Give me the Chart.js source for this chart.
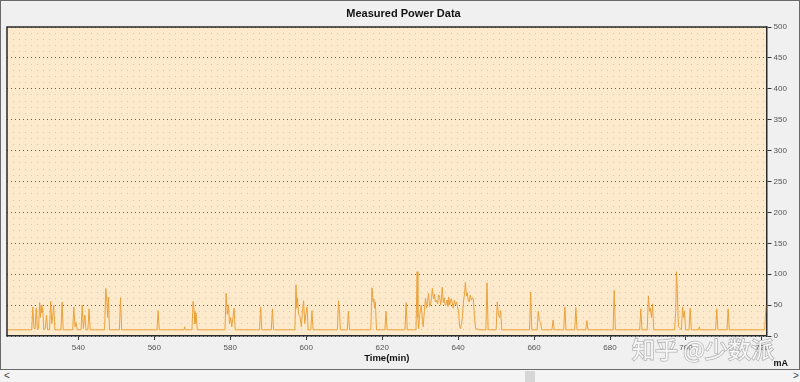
<!DOCTYPE html>
<html>
<head>
<meta charset="utf-8">
<script src="https://cdn.jsdelivr.net/npm/chart.js@4/dist/chart.umd.min.js"></script>
<style>
  html, body { margin: 0; padding: 0; background: #f0f0f0; }
  #wrap { position: relative; width: 800px; height: 382px; background: #f0f0f0; overflow: hidden; }
  #cv { position: absolute; left: 0; top: 0; width: 800px; height: 369px; }
  #frame { position: absolute; left: 0; top: 0; width: 800px; height: 370px; box-sizing: border-box; border: 1px solid #6a6a6a; pointer-events: none; }
  #scroll { position: absolute; left: 0; top: 370px; width: 800px; height: 12px; background: #f4f4f4; font: 10px "Liberation Sans", Arial, sans-serif; color: #444; }
  #scroll .l { position: absolute; left: 4px; top: 0px; }
  #scroll .r { position: absolute; left: 793px; top: 0px; }
  #scroll .thumb { position: absolute; left: 525px; top: 1px; width: 10px; height: 11px; background: #d6d6d6; }
</style>
</head>
<body>
<div id="wrap">
  <canvas id="cv" width="800" height="369"></canvas>
  <div id="frame"></div>
  <div id="scroll"><span class="l">&lt;</span><span class="thumb"></span><span class="r">&gt;</span></div>
</div>
<script>
// ---- data ----
const chartTitle = "Measured Power Data";
const xAxisTitle = "Time(min)";
const yAxisTitle = "mA";
const watermark = "知乎 @少数派";
const xTicks = [540, 560, 580, 600, 620, 640, 660, 680, 700, 720];
const yTicks = [0, 50, 100, 150, 200, 250, 300, 350, 400, 450, 500];

const timeMin = [
  521.2, 527.7, 528.0, 528.3, 528.6, 528.9, 529.2, 529.5, 529.8, 530.0, 530.2, 530.4, 530.6, 530.9,
  531.3, 531.6, 531.9, 532.4, 532.7, 533.0, 533.3, 533.5, 533.8, 535.4, 535.7, 536.0, 538.5, 538.8,
  539.1, 539.4, 539.7, 540.7, 541.0, 541.3, 541.7, 542.0, 542.5, 542.8, 543.1, 546.9, 547.2, 547.5,
  547.7, 547.9, 548.2, 550.8, 551.1, 551.4, 560.7, 561.0, 561.3, 567.8, 568.0, 568.2, 569.9, 570.2,
  570.5, 570.7, 571.0, 571.3, 578.6, 578.9, 579.2, 579.5, 579.8, 580.1, 580.4, 581.0, 581.3, 587.7,
  588.0, 588.3, 590.8, 591.1, 591.4, 597.0, 597.3, 597.5, 597.7, 598.0, 598.4, 598.7, 599.0, 599.3,
  599.6, 599.9, 600.2, 600.5, 601.2, 601.5, 601.8, 608.2, 608.5, 608.8, 609.0, 610.8, 611.1, 611.4,
  617.0, 617.3, 617.6, 617.8, 618.0, 618.2, 618.5, 620.7, 621.0, 621.3, 626.0, 626.3, 626.6, 628.9,
  629.2, 629.4, 629.6, 629.9, 630.3, 630.6, 630.8, 631.1, 631.4, 631.7, 631.9, 632.2, 632.5, 632.7,
  633.0, 633.2, 633.5, 633.8, 634.0, 634.3, 634.6, 634.8, 635.1, 635.4, 635.6, 635.8, 636.1, 636.3,
  636.6, 636.8, 637.1, 637.3, 637.5, 637.8, 638.1, 638.4, 638.7, 639.0, 639.3, 639.6, 639.8, 640.1,
  640.4, 640.6, 640.9, 641.1, 641.4, 641.7, 641.9, 642.2, 642.4, 642.6, 642.9, 643.2, 643.5, 643.8,
  644.0, 644.3, 644.6, 645.5, 647.3, 647.6, 647.9, 650.0, 650.3, 650.6, 650.9, 651.2, 651.5, 658.8,
  659.1, 659.4, 660.8, 661.1, 661.4, 661.7, 662.0, 664.7, 665.0, 665.3, 667.8, 668.1, 668.4, 670.7,
  671.0, 671.3, 673.6, 673.9, 674.2, 680.8, 681.1, 681.4, 687.8, 688.1, 688.4, 689.8, 690.1, 690.4,
  690.6, 690.9, 691.2, 691.5, 697.0, 697.3, 697.5, 697.7, 698.0, 698.8, 699.1, 699.4, 699.6, 699.9,
  700.8, 701.1, 701.4, 703.3, 703.5, 703.7, 707.8, 708.1, 708.4, 710.8, 711.1, 711.4, 720.7, 721.1
];
const powerMa = [
  10, 10, 47, 12, 12, 45, 10, 12, 54, 30, 50, 38, 45, 10,
  12, 34, 10, 10, 56, 20, 35, 50, 10, 10, 55, 10, 10, 47,
  15, 22, 10, 10, 50, 12, 34, 10, 10, 44, 10, 10, 77, 55,
  30, 63, 10, 10, 62, 10, 10, 41, 10, 10, 15, 10, 10, 56,
  40, 20, 37, 10, 10, 69, 35, 50, 20, 30, 15, 45, 10, 10,
  47, 10, 10, 44, 10, 10, 83, 45, 62, 35, 30, 15, 40, 57,
  20, 35, 47, 10, 10, 41, 10, 10, 57, 35, 10, 10, 40, 10,
  10, 78, 55, 60, 45, 55, 10, 10, 40, 10, 10, 54, 10, 10,
  104, 30, 12, 35, 50, 25, 15, 40, 61, 45, 55, 69, 48, 50,
  62, 77, 60, 68, 55, 58, 52, 66, 65, 50, 60, 79, 54, 62,
  50, 52, 58, 48, 63, 50, 60, 55, 45, 58, 50, 55, 48, 40,
  15, 12, 20, 30, 55, 70, 87, 65, 70, 60, 55, 66, 58, 62,
  60, 30, 12, 10, 10, 86, 10, 10, 55, 35, 30, 41, 10, 10,
  71, 10, 10, 40, 25, 22, 10, 10, 26, 10, 10, 47, 10, 10,
  46, 10, 10, 25, 10, 10, 74, 10, 10, 44, 10, 10, 65, 40,
  45, 30, 52, 10, 10, 40, 104, 77, 15, 10, 47, 30, 40, 10,
  10, 45, 10, 10, 15, 10, 10, 44, 10, 10, 44, 10, 10, 50
];

const points = timeMin.map((t, i) => ({ x: t, y: powerMa[i] }));
const FONT = '"Liberation Sans", Arial, sans-serif';

const decor = {
  id: 'decor',
  beforeDraw(chart) {
    const { ctx, chartArea: a } = chart;
    ctx.save();
    ctx.fillStyle = '#fdeacd';
    ctx.fillRect(a.left, a.top, a.right - a.left, a.bottom - a.top);
    ctx.restore();
  },
  afterDraw(chart) {
    const { ctx, chartArea: a } = chart;
    const ys = chart.scales.y;
    ctx.save();
    ctx.strokeStyle = '#2a2a2a';
    ctx.lineWidth = 1.5;
    ctx.beginPath();
    ctx.moveTo(a.left, a.bottom);
    ctx.lineTo(a.left, a.top);
    ctx.lineTo(a.right, a.top);
    ctx.stroke();
    // y axis unit label
    ctx.fillStyle = '#111';
    ctx.font = 'bold 9px ' + FONT;
    ctx.textAlign = 'left';
    ctx.textBaseline = 'middle';
    ctx.fillText(yAxisTitle, ys.left + 7, 364);
    // watermark
    ctx.font = '23px "Noto Sans CJK SC", sans-serif';
    ctx.textBaseline = 'middle';
    ctx.lineWidth = 1.6;
    ctx.strokeStyle = 'rgba(120,120,120,0.5)';
    ctx.strokeText(watermark, 632, 349);
    ctx.fillStyle = 'rgba(255,255,255,0.9)';
    ctx.fillText(watermark, 632, 349);
    ctx.restore();
  }
};

new Chart(document.getElementById('cv'), {
  type: 'line',
  data: {
    datasets: [{
      data: points,
      borderColor: '#eba13a',
      borderWidth: 1,
      pointRadius: 0,
      tension: 0,
      fill: false
    }]
  },
  options: {
    responsive: false,
    animation: false,
    devicePixelRatio: 1,
    layout: { padding: { left: 7, right: 0, top: 0, bottom: 0 } },
    plugins: {
      legend: { display: false },
      tooltip: { enabled: false },
      title: {
        display: true,
        text: chartTitle,
        color: '#111',
        font: { family: FONT, size: 11, weight: 'bold' },
        padding: { top: 7, bottom: 6.8 }
      }
    },
    scales: {
      x: {
        type: 'linear',
        min: 521.2,
        max: 721.2,
        afterBuildTicks: (s) => { s.ticks = xTicks.map(v => ({ value: v })); },
        afterFit: (s) => { s.height = 33; },
        ticks: { color: '#555', font: { family: FONT, size: 8 }, padding: 3, maxRotation: 0, autoSkip: false },
        grid: { drawOnChartArea: false, drawTicks: true, tickLength: 4, tickColor: '#333' },
        border: { display: true, color: '#2a2a2a', width: 1.5 },
        title: { display: true, text: xAxisTitle, color: '#111', font: { family: FONT, size: 9.5, weight: 'bold' }, padding: { top: 0, bottom: 4.7 } }
      },
      y2: {
        type: 'linear',
        position: 'right',
        min: 0,
        max: 500,
        ticks: { display: false, stepSize: 10 },
        afterFit: (s) => { s.width = 0; },
        grid: {
          drawTicks: false,
          lineWidth: 1,
          color: (c) => (c.tick && c.tick.value % 50 === 0) ? 'rgba(0,0,0,0)' : '#dcc7a4'
        },
        border: { display: false, dash: [1, 5] }
      },
      y: {
        type: 'linear',
        position: 'right',
        min: 0,
        max: 500,
        afterBuildTicks: (s) => { s.ticks = yTicks.map(v => ({ value: v })); },
        afterFit: (s) => { s.width = 33.5; },
        ticks: { color: '#555', font: { family: FONT, size: 8 }, padding: 2 },
        grid: { color: '#6a5c44', lineWidth: 1, tickLength: 5, tickColor: '#333' },
        border: { display: true, color: '#2a2a2a', width: 1.5, dash: [1, 3] }
      }
    }
  },
  plugins: [decor]
});
</script>
</body>
</html>
